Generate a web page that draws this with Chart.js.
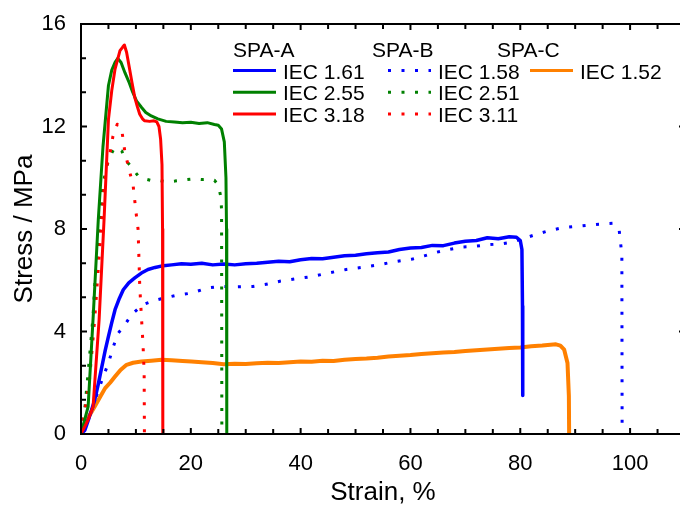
<!DOCTYPE html>
<html>
<head>
<meta charset="utf-8">
<script src="https://cdn.jsdelivr.net/npm/chart.js@4.4.1/dist/chart.umd.min.js"></script>
<style>
  html, body { margin: 0; padding: 0; overflow: hidden; background: #fff; }
  #wrap { width: 690px; height: 510px; }
</style>
</head>
<body>
<div id="wrap"><canvas id="stress-strain" width="690" height="510"></canvas></div>
<script>
// tick labels
const xTickValues = [0, 20, 40, 60, 80, 100];
const yTickValues = [0, 4, 8, 12, 16];

// legend groups
const groupNames = ["SPA-A", "SPA-B", "SPA-C"];
const seriesLabels = ["IEC 1.61", "IEC 2.55", "IEC 3.18", "IEC 1.58", "IEC 2.51", "IEC 3.11", "IEC 1.52"];

// SPA-A IEC 1.61
const strainA161 = [0, 0.7, 1.5, 2.5, 3.2, 3.8, 4.4, 5.0, 5.6, 6.2, 7.0, 7.7, 8.7, 9.8, 11, 12.2, 13.5, 15, 16.5, 18.3, 20, 22, 24, 26, 28, 30, 32, 34, 36, 38, 40, 42, 44, 46, 48, 50, 52, 54, 56, 58, 60, 62, 64, 66, 68, 70, 72, 74, 76, 78, 79.3, 80.0, 80.3, 80.4, 80.45];
const stressA161 = [0, 0.15, 0.65, 1.33, 2.0, 2.63, 3.25, 3.81, 4.35, 4.85, 5.3, 5.63, 5.9, 6.09, 6.28, 6.42, 6.5, 6.57, 6.6, 6.64, 6.62, 6.66, 6.6, 6.63, 6.6, 6.64, 6.66, 6.7, 6.74, 6.72, 6.8, 6.85, 6.84, 6.9, 6.96, 6.98, 7.03, 7.07, 7.1, 7.2, 7.26, 7.28, 7.36, 7.35, 7.45, 7.52, 7.55, 7.66, 7.62, 7.7, 7.68, 7.55, 7.2, 5.0, 1.5];

// SPA-A IEC 2.55
const strainA255 = [0, 0.6, 1.3, 2.2, 3.15, 4.0, 5.0, 5.6, 6.2, 6.7, 7.3, 8.0, 8.8, 9.4, 10.1, 11, 11.8, 12.8, 14, 15.5, 17, 18.5, 20, 21.5, 23, 24.3, 25.0, 25.6, 26.1, 26.4, 26.5, 26.55];
const stressA255 = [0, 0.5, 1.07, 4.5, 8.37, 11.2, 13.6, 14.2, 14.5, 14.66, 14.5, 14.1, 13.7, 13.35, 13.0, 12.75, 12.55, 12.41, 12.3, 12.2, 12.18, 12.15, 12.17, 12.12, 12.15, 12.08, 12.05, 11.9, 11.4, 10.0, 8.0, 0];

// SPA-A IEC 3.18
const strainA318 = [0, 0.6, 1.3, 2.2, 3.3, 4.2, 5.0, 5.6, 6.2, 7.1, 7.6, 7.9, 8.3, 8.8, 9.3, 9.8, 10.3, 10.7, 11.2, 11.6, 12.5, 13.3, 13.8, 14.2, 14.5, 14.75, 14.85, 14.9];
const stressA318 = [0, 0.25, 0.55, 1.07, 4.46, 8.37, 12.28, 13.4, 14.24, 14.96, 15.1, 15.18, 14.9, 14.3, 13.7, 13.13, 12.75, 12.48, 12.3, 12.22, 12.2, 12.22, 12.18, 12.0, 11.5, 10.5, 8.0, 0];

// SPA-B IEC 1.58
const strainB158 = [0, 1, 2, 3, 4.05, 5.0, 5.9, 6.8, 8.0, 9.2, 11.3, 13.5, 15, 17.1, 20.1, 23.1, 25.6, 28, 31.3, 34, 36.2, 39, 42.2, 45, 48.3, 51, 54.4, 57, 60.4, 62.5, 64.7, 67, 69.5, 72, 74.4, 76.5, 78.6, 80.5, 82.9, 85, 87.7, 90.7, 93.8, 96.8, 98.0, 98.5, 98.55];
const stressB158 = [0, 0.4, 0.95, 1.6, 2.24, 2.77, 3.42, 3.94, 4.26, 4.66, 5.05, 5.22, 5.3, 5.4, 5.5, 5.7, 5.76, 5.74, 5.76, 5.85, 5.96, 6.05, 6.15, 6.28, 6.42, 6.5, 6.61, 6.72, 6.83, 6.95, 7.09, 7.2, 7.3, 7.33, 7.39, 7.42, 7.49, 7.62, 7.79, 7.92, 8.05, 8.11, 8.18, 8.22, 7.98, 7.0, 0];

// SPA-B IEC 2.51
const strainB251 = [0, 0.7, 1.3, 2.2, 2.5, 3.2, 4.05, 5.0, 6.1, 7.4, 8.3, 9.5, 10.4, 11.9, 13, 14.1, 15.5, 17.1, 19, 20.7, 22, 23.1, 24.3, 25.0, 25.5, 25.6, 25.65];
const stressB251 = [0, 1.0, 2.4, 4.6, 5.76, 7.8, 9.81, 10.7, 11.18, 11.05, 10.65, 10.33, 10.07, 9.94, 9.88, 9.9, 9.84, 9.87, 9.92, 9.96, 9.93, 9.94, 9.9, 9.72, 9.22, 8.7, 0];

// SPA-B IEC 3.11
const strainB311 = [0, 1.5, 2.5, 3.5, 4.2, 4.7, 5.3, 5.8, 6.6, 7.4, 8.0, 8.6, 9.5, 9.8, 10.1, 10.4, 10.7, 11.0, 11.3, 11.5, 11.55];
const stressB311 = [0, 2.0, 4.5, 7.5, 9.6, 10.46, 10.98, 11.6, 12.09, 11.9, 11.0, 10.46, 9.68, 9.09, 8.5, 7.98, 5.76, 4.59, 3.48, 2.38, 0];

// SPA-C IEC 1.52
const strainC152 = [0, 0.4, 1.2, 2.5, 3.5, 4.4, 5.3, 6.2, 7.2, 8.3, 9.5, 11, 12.8, 14.7, 16.5, 18.5, 20.1, 22, 24, 26, 28, 30, 32, 34, 36, 38, 40, 42, 44, 46, 48, 50, 52, 54, 56, 58, 60, 62, 64, 66, 68, 70, 72, 74, 76, 78, 80, 82, 84, 85.5, 86.5, 87.3, 88.0, 88.6, 88.85, 88.9];
const stressC152 = [0, 0.29, 0.6, 1.07, 1.45, 1.79, 2.0, 2.24, 2.5, 2.7, 2.78, 2.83, 2.86, 2.9, 2.88, 2.85, 2.83, 2.8, 2.77, 2.72, 2.74, 2.73, 2.76, 2.78, 2.77, 2.8, 2.83, 2.82, 2.86, 2.85, 2.9, 2.93, 2.95, 2.98, 3.02, 3.05, 3.08, 3.12, 3.15, 3.18, 3.2, 3.24, 3.27, 3.3, 3.33, 3.36, 3.38, 3.42, 3.45, 3.48, 3.5, 3.45, 3.29, 2.77, 1.5, 0];

const FONT = "'Liberation Sans', Arial, sans-serif";
const dots = [3, 10.5];

const pts = (xs, ys) => xs.map((v, i) => ({ x: v, y: ys[i] }));

const series = [
  { label: seriesLabels[0], data: pts(strainA161, stressA161), borderColor: "#0000ff", borderWidth: 3.5, order: 5, group: 0 },
  { label: seriesLabels[1], data: pts(strainA255, stressA255), borderColor: "#008000", borderWidth: 3, order: 2, group: 0 },
  { label: seriesLabels[2], data: pts(strainA318, stressA318), borderColor: "#ff0000", borderWidth: 3, order: 1, group: 0 },
  { label: seriesLabels[3], data: pts(strainB158, stressB158), borderColor: "#0000ff", borderWidth: 3, borderDash: dots, order: 6, group: 1 },
  { label: seriesLabels[4], data: pts(strainB251, stressB251), borderColor: "#008000", borderWidth: 3, borderDash: dots, order: 4, group: 1 },
  { label: seriesLabels[5], data: pts(strainB311, stressB311), borderColor: "#ff0000", borderWidth: 3, borderDash: dots, order: 3, group: 1 },
  { label: seriesLabels[6], data: pts(strainC152, stressC152), borderColor: "#ff8000", borderWidth: 4, order: 7, group: 2 }
];

// frame with inward ticks on all four sides
const frameTicks = {
  id: "frameTicks",
  afterDraw(chart) {
    const { ctx, chartArea: a, scales: { x, y } } = chart;
    ctx.save();
    ctx.strokeStyle = "#000";
    ctx.lineWidth = 2;
    ctx.strokeRect(a.left, a.top, a.right - a.left, a.bottom - a.top);
    ctx.beginPath();
    for (let v = 0; v <= 110; v += 5) {
      const px = x.getPixelForValue(v);
      const len = v % 20 === 0 ? 6 : 5;
      ctx.moveTo(px, a.bottom); ctx.lineTo(px, a.bottom - len);
      ctx.moveTo(px, a.top); ctx.lineTo(px, a.top + len);
    }
    for (let i = 0; i <= 12; i++) {
      const py = y.getPixelForValue(i * 4 / 3);
      const len = i % 3 === 0 ? 6 : 5;
      ctx.moveTo(a.left, py); ctx.lineTo(a.left + len, py);
      ctx.moveTo(a.right, py); ctx.lineTo(a.right - len, py);
    }
    ctx.stroke();
    ctx.restore();
  }
};

// legend in three columns, one per sample group
const groupLegend = {
  id: "groupLegend",
  afterDraw(chart) {
    const ctx = chart.ctx;
    const colX = [233, 388, 530];
    const headX = [233, 372, 497];
    ctx.save();
    ctx.font = "21px " + FONT;
    ctx.fillStyle = "#000";
    ctx.textBaseline = "alphabetic";
    groupNames.forEach((g, i) => ctx.fillText(g, headX[i], 57));
    const rowCount = [0, 0, 0];
    chart.data.datasets.forEach(ds => {
      const row = rowCount[ds.group]++;
      const base = 78.5 + row * 21.7;
      const lx = colX[ds.group];
      ctx.strokeStyle = ds.borderColor;
      ctx.lineWidth = 3;
      ctx.setLineDash(ds.borderDash || []);
      ctx.beginPath();
      ctx.moveTo(lx, base - 8);
      ctx.lineTo(lx + 43, base - 8);
      ctx.stroke();
      ctx.setLineDash([]);
      ctx.fillText(ds.label, lx + 50, base);
    });
    ctx.restore();
  }
};

const ctx = document.getElementById("stress-strain").getContext("2d");
const stressChart = new Chart(ctx, {
  type: "line",
  data: {
    datasets: series.map(s => Object.assign({
      fill: false,
      pointRadius: 0,
      tension: 0,
      borderCapStyle: "butt",
      borderJoinStyle: "round"
    }, s))
  },
  options: {
    responsive: false,
    animation: false,
    devicePixelRatio: 1,
    layout: { padding: { top: 24, right: 5, left: 0, bottom: 0 } },
    plugins: { legend: { display: false }, tooltip: { enabled: false } },
    scales: {
      x: {
        type: "linear",
        min: 0,
        max: 110,
        afterBuildTicks: scale => { scale.ticks = xTickValues.map(v => ({ value: v })); },
        afterFit: scale => { scale.height = 76; },
        grid: { display: false },
        border: { display: false },
        ticks: { color: "#000", font: { family: FONT, size: 22 }, padding: 9, maxRotation: 0 },
        title: { display: true, text: "Strain, %", color: "#000", font: { family: FONT, size: 26 }, padding: { top: 0, bottom: 2 } }
      },
      y: {
        min: 0,
        max: 16,
        afterBuildTicks: scale => { scale.ticks = yTickValues.map(v => ({ value: v })); },
        afterFit: scale => { scale.width = 81; },
        grid: { display: false },
        border: { display: false },
        ticks: { color: "#000", font: { family: FONT, size: 22 }, padding: 7 },
        title: { display: true, text: "Stress / MPa", color: "#000", font: { family: FONT, size: 26 }, padding: { top: 9, bottom: 0 } }
      }
    }
  },
  plugins: [frameTicks, groupLegend]
});
</script>
</body>
</html>
